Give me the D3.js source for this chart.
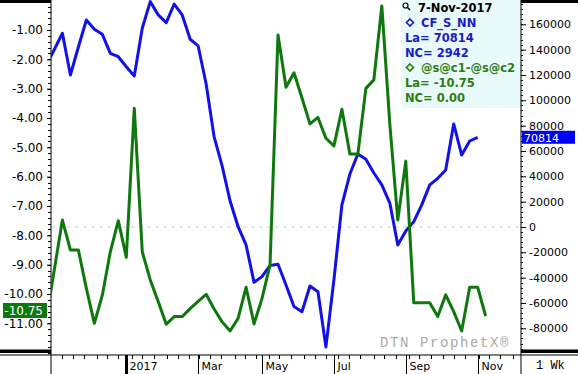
<!DOCTYPE html>
<html>
<head>
<meta charset="utf-8">
<script src="https://cdn.jsdelivr.net/npm/d3@7"></script>
<style>
  body { margin: 0; background: #fff; }
  svg { display: block; }
</style>
</head>
<body>
<div id="chart"></div>
<script>
// weekly bars, first bar 18-Oct-2016, last bar 7-Nov-2017
const firstBar = new Date(2016, 9, 18);

// @s@c1-@s@c2 spread (left axis)
const spreadValues = [
    -10.82, -9.15, -7.48, -8.50, -8.50, -9.81, -11.00, -10.04, -8.56, -7.50,
    -8.75, -3.67, -8.56, -9.52, -10.26, -11.03, -10.77, -10.77, -10.50, -10.25,
    -10.01, -10.51, -10.95, -11.26, -10.83, -9.77, -11.02, -10.15, -9.01, -1.17,
    -2.95, -2.46, -3.32, -4.20, -3.98, -4.69, -4.95, -3.70, -5.23, -5.23,
    -2.99, -2.70, -0.18, -4.20, -7.48, -5.47, -10.30, -10.30, -10.30, -10.77,
    -10.03, -10.60, -11.26, -9.77, -9.77, -10.75
];

// CF_S_NN net position (right axis), one bar behind the spread
const netValues = [
    127900, 140300, 152900, 120000, 142100, 163400, 156100, 152100, 137100, 134400,
    126500, 119200, 156900, 177900, 167400, 161300, 176000, 167400, 148200, 142900,
    112900, 71100, 48200, 20500, 200, -14200, -43700, -39200, -30400, -29400,
    -45800, -62800, -66900, -46600, -51100, -94700, -41800, 17400, 41800, 57600,
    53400, 42600, 33200, 18900, -14200, -3200, 4200, 17400, 33200, 38400,
    45000, 81300, 56800, 67872, 70814
];

const leftTicks = [-1, -2, -3, -4, -5, -6, -7, -8, -9, -10, -11];
const rightTicks = [160000, 140000, 120000, 100000, 80000, 60000, 40000, 20000, 0,
    -20000, -40000, -60000, -80000];

const monthStarts = [new Date(2017, 0, 1), new Date(2017, 2, 1), new Date(2017, 4, 1),
    new Date(2017, 6, 1), new Date(2017, 8, 1), new Date(2017, 10, 1)];
const monthNames = ["2017", "Mar", "May", "Jul", "Sep", "Nov"];

const legendDate = "7-Nov-2017";
const seriesNames = ["CF_S_NN", "@s@c1-@s@c2"];
const lastValues = ["70814", "-10.75"];
const netChanges = ["2942", "0.00"];
const periodLabel = "1 Wk";
const watermark = "DTN ProphetX\u00AE";

const blue = "#1212e8";
const green = "#0e780e";

function createChart() {
    const width = 578, height = 374;
    const left = 51, right = 521, bottom = 355;

    const barDates = d3.range(spreadValues.length).map(i => d3.timeWeek.offset(firstBar, i));

    const x = d3.scaleTime()
        .domain([new Date(2016, 9, 22), new Date(2017, 11, 8)])
        .range([left, right]);
    const yLeft = d3.scaleLinear().domain([-1, -10]).range([30, 294]);
    const yRight = d3.scaleLinear().domain([160000, -80000]).range([24.3, 328.3]);

    const svg = d3.create("svg")
        .attr("width", width)
        .attr("height", height)
        .attr("viewBox", [0, 0, width, height])
        .style("font-family", "'DejaVu Sans', Verdana, sans-serif");

    svg.append("rect").attr("width", width).attr("height", height).attr("fill", "#fff");

    svg.append("clipPath").attr("id", "plot")
        .append("rect").attr("x", left).attr("y", 0)
        .attr("width", right - left).attr("height", bottom);

    // legend box
    svg.append("rect")
        .attr("x", 401).attr("y", 0)
        .attr("width", right - 401).attr("height", 108)
        .attr("fill", "#e9fafa");

    // zero line of the right axis
    svg.append("line")
        .attr("x1", left).attr("x2", right)
        .attr("y1", yRight(0)).attr("y2", yRight(0))
        .attr("stroke", "#d0d0d0")
        .attr("stroke-dasharray", "4,4");

    svg.append("text")
        .attr("x", 380).attr("y", 347)
        .style("font-family", "'Liberation Mono', monospace")
        .style("font-size", "14px")
        .style("letter-spacing", "1.6px")
        .attr("fill", "#a8a8a8")
        .text(watermark);

    // frame
    svg.append("line").attr("x1", 0).attr("x2", width).attr("y1", bottom).attr("y2", bottom)
        .attr("stroke", "#000");
    [[0, left], [right, width]].forEach(([a, b]) => {
        svg.append("rect").attr("x", a).attr("y", 0).attr("width", b - a).attr("height", 3).attr("fill", "#000");
        svg.append("rect").attr("x", a).attr("y", 349.5).attr("width", b - a).attr("height", 3.5).attr("fill", "#000");
    });
    [left, right].forEach(px => {
        svg.append("line").attr("x1", px).attr("x2", px).attr("y1", 0).attr("y2", height)
            .attr("stroke", "#000");
    });

    // minor ticks
    const minorLeft = d3.range(0, -12.1, -0.2);
    svg.append("g").selectAll("line")
        .data(minorLeft.filter(v => yLeft(v) > 3 && yLeft(v) < bottom - 2))
        .join("line")
        .attr("x1", left - 3).attr("x2", left)
        .attr("y1", d => Math.round(yLeft(d)) + 0.5).attr("y2", d => Math.round(yLeft(d)) + 0.5)
        .attr("stroke", "#000");

    const minorRight = d3.range(176000, -102000, -4000);
    svg.append("g").selectAll("line")
        .data(minorRight.filter(v => yRight(v) > 3 && yRight(v) < bottom - 2))
        .join("line")
        .attr("x1", right).attr("x2", right + 2)
        .attr("y1", d => Math.round(yRight(d)) + 0.5).attr("y2", d => Math.round(yRight(d)) + 0.5)
        .attr("stroke", "#000");

    const minorX = [];
    d3.timeMonth.range(new Date(2016, 9, 1), new Date(2017, 11, 31)).forEach(m => {
        [1, 10, 20].forEach(day => minorX.push(new Date(m.getFullYear(), m.getMonth(), day)));
    });
    svg.append("g").selectAll("line")
        .data(minorX.filter(d => x(d) > left + 3 && x(d) < right - 3))
        .join("line")
        .attr("x1", d => Math.round(x(d)) + 0.5).attr("x2", d => Math.round(x(d)) + 0.5)
        .attr("y1", bottom).attr("y2", bottom + 4)
        .attr("stroke", "#000");

    // axes
    const axisL = svg.append("g")
        .attr("transform", `translate(${left},0)`)
        .call(d3.axisLeft(yLeft).tickValues(leftTicks).tickSize(4).tickPadding(4)
            .tickFormat(d => d.toFixed(2)));
    axisL.select(".domain").remove();
    axisL.selectAll("text").style("font-size", "12px").style("font-family", "'DejaVu Sans', sans-serif");

    const axisR = svg.append("g")
        .attr("transform", `translate(${right},0)`)
        .call(d3.axisRight(yRight).tickValues(rightTicks).tickSize(5).tickPadding(3)
            .tickFormat(d => String(d)));
    axisR.select(".domain").remove();
    axisR.selectAll("text").style("font-size", "11px").style("font-family", "'DejaVu Sans', sans-serif");

    // month separators sit on the last bar of the previous month
    monthStarts.forEach((m, i) => {
        const bar = d3.max(barDates.filter(d => d < m));
        const px = Math.round(x(bar)) + 0.5;
        svg.append("line")
            .attr("x1", px).attr("x2", px)
            .attr("y1", bottom).attr("y2", height)
            .attr("stroke", "#000")
            .attr("stroke-width", i === 0 ? 3 : 1);
        svg.append("text")
            .attr("x", px + 3).attr("y", 370)
            .style("font-size", "11px")
            .text(monthNames[i]);
    });

    svg.append("text")
        .attr("x", 536).attr("y", 369)
        .style("font-family", "'Liberation Mono', monospace")
        .style("font-size", "12px")
        .text(periodLabel);

    // series
    const plot = svg.append("g").attr("clip-path", "url(#plot)");

    const lineRight = d3.line().x((d, i) => x(barDates[i])).y(d => yRight(d));
    const lineLeft = d3.line().x((d, i) => x(barDates[i])).y(d => yLeft(d));

    plot.append("path")
        .attr("d", lineRight(netValues))
        .attr("fill", "none")
        .attr("stroke", blue)
        .attr("stroke-width", 3)
        .attr("stroke-linejoin", "round");

    plot.append("path")
        .attr("d", lineLeft(spreadValues))
        .attr("fill", "none")
        .attr("stroke", green)
        .attr("stroke-width", 3)
        .attr("stroke-linejoin", "round");

    // last value markers
    const lastNet = netValues[netValues.length - 1];
    svg.append("rect")
        .attr("x", right + 1).attr("y", yRight(lastNet) - 6.5)
        .attr("width", 53).attr("height", 13)
        .attr("fill", "#0000f0");
    svg.append("text")
        .attr("x", 524).attr("y", yRight(lastNet) + 4.5)
        .style("font-size", "11px")
        .attr("fill", "#fff")
        .text(lastValues[0]);

    const lastSpread = spreadValues[spreadValues.length - 1];
    svg.append("rect")
        .attr("x", 3).attr("y", yLeft(lastSpread) - 13)
        .attr("width", 44).attr("height", 15)
        .attr("fill", green);
    svg.append("text")
        .attr("x", 43).attr("y", yLeft(lastSpread) - 1)
        .attr("text-anchor", "end")
        .style("font-size", "12px")
        .attr("fill", "#fff")
        .text(lastValues[1]);

    // legend
    const lg = svg.append("g")
        .style("font-size", "11.5px")
        .style("font-weight", "bold");

    lg.append("circle").attr("cx", 405.5).attr("cy", 5.5).attr("r", 2.5)
        .attr("fill", "none").attr("stroke", "#000").attr("stroke-width", 1.2);
    lg.append("line").attr("x1", 407.5).attr("y1", 7.5).attr("x2", 410).attr("y2", 10)
        .attr("stroke", "#000").attr("stroke-width", 1.5);
    lg.append("text").attr("x", 418).attr("y", 12).attr("fill", "#000").text(legendDate);

    const legendColors = ["#1c1cc4", "#2f7a14"];
    seriesNames.forEach((name, s) => {
        const base = 27 + s * 45;
        const c = legendColors[s];
        lg.append("path")
            .attr("d", `M410,${base - 8}l3.5,3.5l-3.5,3.5l-3.5,-3.5z`)
            .attr("fill", "none").attr("stroke", c).attr("stroke-width", 1.6);
        lg.append("text").attr("x", 421).attr("y", base).attr("fill", c).text(name);
        lg.append("text").attr("x", 405).attr("y", base + 15).attr("fill", c).text("La= " + lastValues[s]);
        lg.append("text").attr("x", 405).attr("y", base + 30).attr("fill", c).text("NC= " + netChanges[s]);
    });

    return svg.node();
}

document.getElementById("chart").appendChild(createChart());
</script>
</body>
</html>
